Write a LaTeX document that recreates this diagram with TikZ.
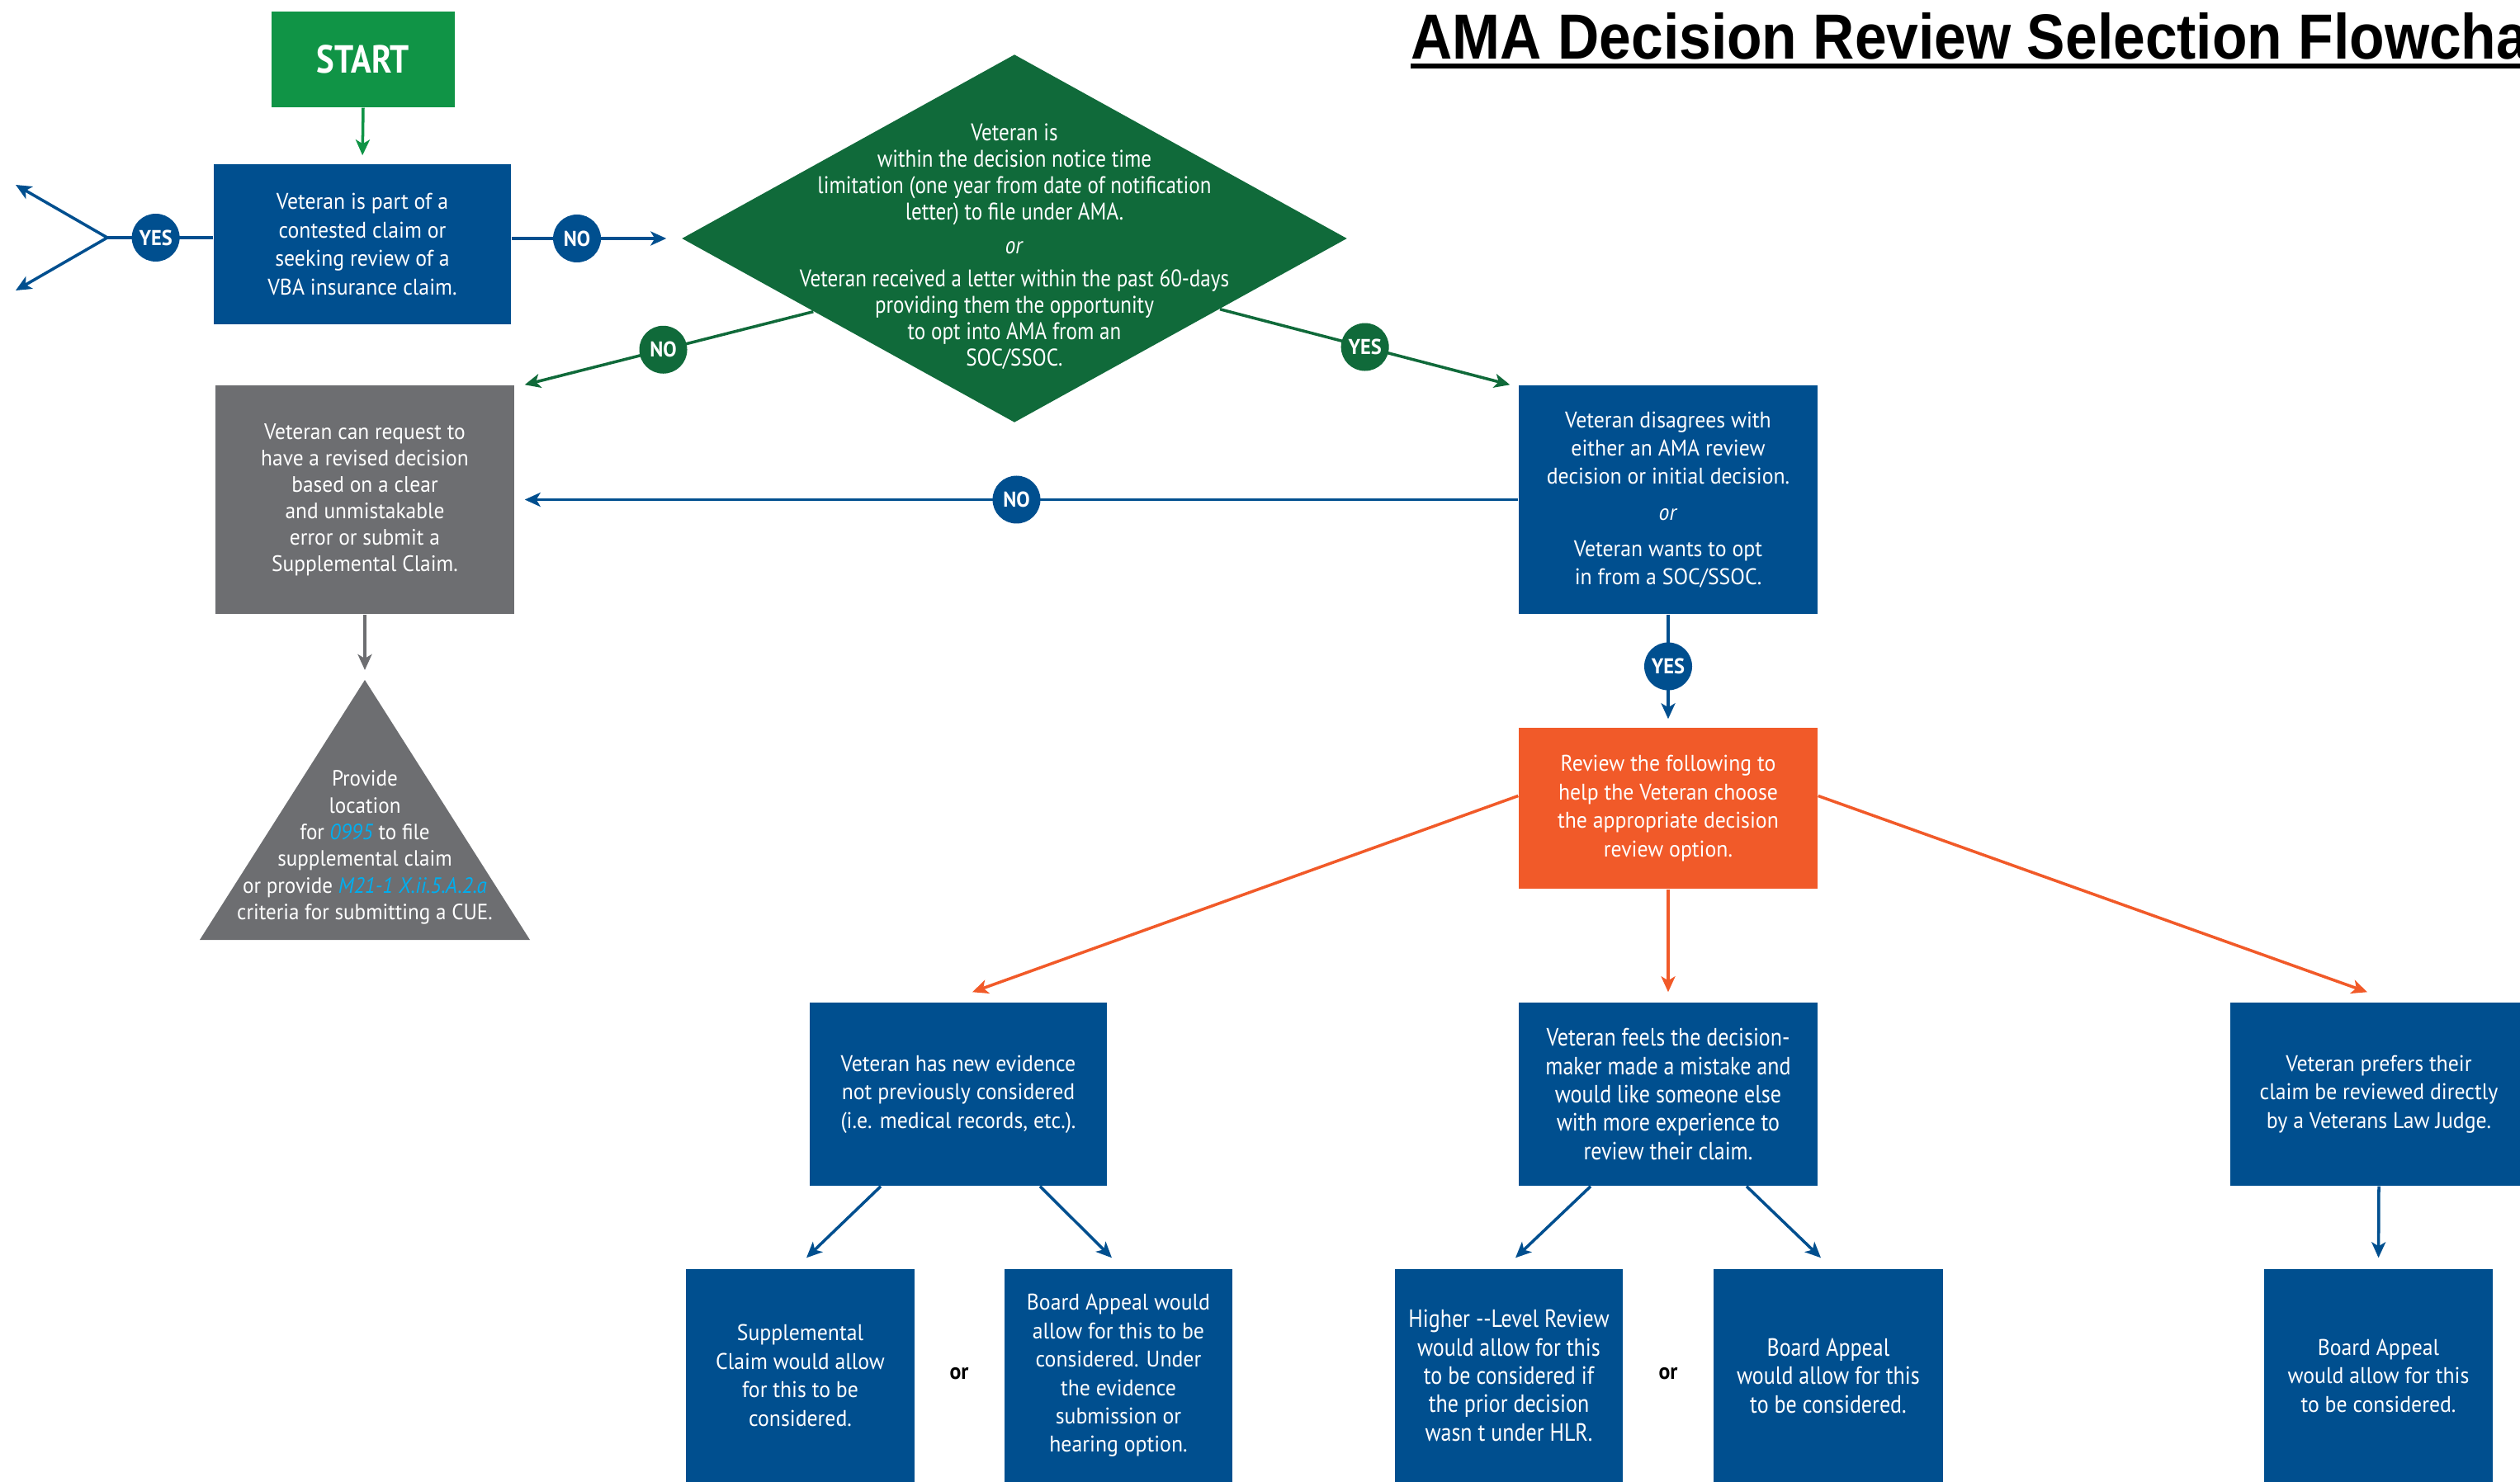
\documentclass[tikz,border=0pt]{standalone}
\usepackage{fontspec}
\setmainfont[FakeStretch=0.94]{PT Sans}
\newfontfamily\narrowfont[FakeStretch=0.86]{PT Sans}
\newfontfamily\headfont[FakeStretch=0.90]{Liberation Sans}
\usetikzlibrary{arrows.meta,shapes.geometric}
\definecolor{vablue}{RGB}{0,79,143}
\definecolor{startgreen}{RGB}{16,148,70}
\definecolor{diagreen}{RGB}{16,106,58}
\definecolor{slate}{RGB}{109,110,113}
\definecolor{flame}{RGB}{241,90,41}
\definecolor{linkblue}{RGB}{0,174,239}
\tikzset{
  box/.style={fill=vablue,text=white,inner sep=0pt,align=center,font=\fontsize{7.8}{9.8}\selectfont},
  narrowbox/.style={box,font=\narrowfont\fontsize{8.6}{9.8}\selectfont},
  pill/.style={circle,fill=#1,text=white,minimum size=0.58cm,inner sep=0pt,font=\bfseries\fontsize{7.4}{8}\selectfont},
  link/.style={line width=1pt,->}
}
\begin{document}
\begin{tikzpicture}[>={Stealth[length=1.9mm,width=1.7mm,inset=0.5mm]}]
      \useasboundingbox (0,0) rectangle (30.53,-17.96);
      \node (title) at (17.09,-0.72)[anchor=base west,inner sep=0pt,font=\headfont\bfseries\fontsize{22}{24}\selectfont]{AMA Decision Review Selection Flowchart};
      \draw[line width=1.8pt] (17.09,-0.80)--(31,-0.80);
      \node (start) at (4.40,-0.72)[fill=startgreen,text=white,minimum width=2.22cm,minimum height=1.16cm,inner sep=0pt,font=\narrowfont\bfseries\fontsize{13.5}{14}\selectfont]{START};
      \node (contest) at (4.39,-2.96)[box,minimum width=3.60cm,minimum height=1.94cm]{Veteran is part of a\\contested claim or\\seeking review of a\\VBA insurance claim.};
      \coordinate (fork) at (1.30,-2.88); \coordinate (up) at (0.19,-2.24); \coordinate (down) at (0.19,-3.52);
      \node (window) at (12.29,-2.89)[diamond,fill=diagreen,minimum width=8.06cm,minimum height=4.46cm,inner sep=0pt]{};
      \node (windowtxt) at (12.29,-2.99)[align=center,text=white,font=\narrowfont\fontsize{8.3}{9.1}\selectfont]{Veteran is\\within the decision notice time\\limitation (one  year from date of notification\\letter) to file under AMA.\\[2.4pt]\textit{or}\\[2.4pt]Veteran received a letter within the past 60-days\\providing them the opportunity\\to opt into AMA from an\\SOC/SSOC.};
      \node (gray) at (4.42,-6.055)[box,fill=slate,minimum width=3.62cm,minimum height=2.77cm,font=\fontsize{7.7}{9.1}\selectfont]{Veteran can request to\\have a revised decision\\based on a clear\\and unmistakable\\error or submit a\\Supplemental Claim.};
      \coordinate (cuetop) at (4.42,-8.24);
      \fill[slate] (cuetop)--(6.42,-11.39)--(2.42,-11.39)--cycle;
      \node (cuetxt) at (4.42,-10.27)[align=center,text=white,font=\fontsize{7.6}{9.2}\selectfont]{Provide\\location\\for \textcolor{linkblue}{\itshape 0995} to file\\supplemental claim\\or provide \textcolor{linkblue}{\itshape M21-1 X.ii.5.A.2.a}\\criteria for submitting a CUE.};
      \node (disagree) at (20.21,-6.055)[box,minimum width=3.62cm,minimum height=2.77cm]{Veteran disagrees with\\either an AMA review\\decision or initial decision.\\[2.6pt]\textit{or}\\[2.6pt]Veteran wants to opt\\in from a SOC/SSOC.};
      \node (orange) at (20.21,-9.795)[box,fill=flame,minimum width=3.62cm,minimum height=1.95cm]{Review the following to\\help the Veteran choose\\the appropriate decision\\review option.};
      \node (evid) at (11.61,-13.26)[box,minimum width=3.60cm,minimum height=2.22cm]{Veteran has new evidence\\not previously considered\\(i.e. medical records, etc.).};
      \node (feels) at (20.21,-13.26)[narrowbox,minimum width=3.62cm,minimum height=2.22cm]{Veteran feels the decision-\\maker made a mistake and\\would like someone else\\with more experience to\\review their claim.};
      \node (prefer) at (28.82,-13.26)[box,minimum width=3.60cm,minimum height=2.22cm]{Veteran prefers their\\claim be reviewed directly\\by a Veterans Law Judge.};
      \node (supp) at (9.695,-16.67)[box,minimum width=2.77cm,minimum height=2.58cm]{Supplemental\\Claim would allow\\for this to be\\considered.};
      \node (board1) at (13.55,-16.67)[box,minimum width=2.76cm,minimum height=2.58cm]{Board Appeal would\\allow for this to be\\considered. Under\\the evidence\\submission or\\hearing option.};
      \node (hlr) at (18.28,-16.67)[narrowbox,minimum width=2.76cm,minimum height=2.58cm]{Higher --Level Review\\would allow for this\\to be considered if\\the prior decision\\wasn t under HLR.};
      \node (board2) at (22.15,-16.67)[narrowbox,minimum width=2.78cm,minimum height=2.58cm]{Board Appeal\\would allow for this\\to be considered.};
      \node (board3) at (28.815,-16.67)[box,minimum width=2.77cm,minimum height=2.58cm]{Board Appeal\\would allow for this\\to be considered.};
      \node (or1) at (11.62,-16.65)[font=\bfseries\fontsize{7.8}{9}\selectfont]{or};
      \node (or2) at (20.21,-16.65)[font=\bfseries\fontsize{7.8}{9}\selectfont]{or};
      \draw[link,startgreen,shorten >=0.10cm] (start.south)--(contest.north);
      \draw[line width=1pt,vablue] (contest.west |- fork)--node[pill=vablue,pos=.543] (yes1){YES} (fork);
      \draw[link,vablue] (fork)--(up); \draw[link,vablue] (fork)--(down);
      \draw[link,vablue,shorten >=0.18cm] (contest.east |- window.west)--node[pill=vablue,pos=.386] (no1){NO} (window.west);
      \draw[link,diagreen] (window.200)--node[pill=diagreen,pos=.52] (no2){NO} ([xshift=0.12cm]gray.north east);
      \draw[link,diagreen] (window.341)--node[pill=diagreen,pos=.5] (yes2){YES} ([xshift=-0.10cm]disagree.north west);
      \draw[link,vablue,shorten >=0.12cm] (disagree.west)--node[pill=vablue,pos=.5] (no3){NO} (gray.east);
      \draw[link,slate,shorten >=0.12cm] (gray.south)--(cuetop);
      \draw[link,vablue,shorten >=0.10cm] (disagree.south)--node[pill=vablue,pos=.46] (yes3){YES} (orange.north);
      \draw[link,flame] ([yshift=0.15cm]orange.west)--([xshift=0.17cm,yshift=0.12cm]evid.north);
      \draw[link,flame,shorten >=0.12cm] (orange.south)--(feels.north);
      \draw[link,flame] ([yshift=0.15cm]orange.east)--([xshift=-0.14cm,yshift=0.12cm]prefer.north);
      \draw[link,vablue] ([xshift=-0.94cm]evid.south)--([xshift=0.075cm,yshift=0.13cm]supp.north);
      \draw[link,vablue] ([xshift=0.99cm]evid.south)--([xshift=-0.08cm,yshift=0.13cm]board1.north);
      \draw[link,vablue] ([xshift=-0.94cm]feels.south)--([xshift=0.08cm,yshift=0.13cm]hlr.north);
      \draw[link,vablue] ([xshift=0.95cm]feels.south)--([xshift=-0.09cm,yshift=0.13cm]board2.north);
      \draw[link,vablue,shorten >=0.13cm] (prefer.south)--(board3.north);
\end{tikzpicture}
\end{document}
